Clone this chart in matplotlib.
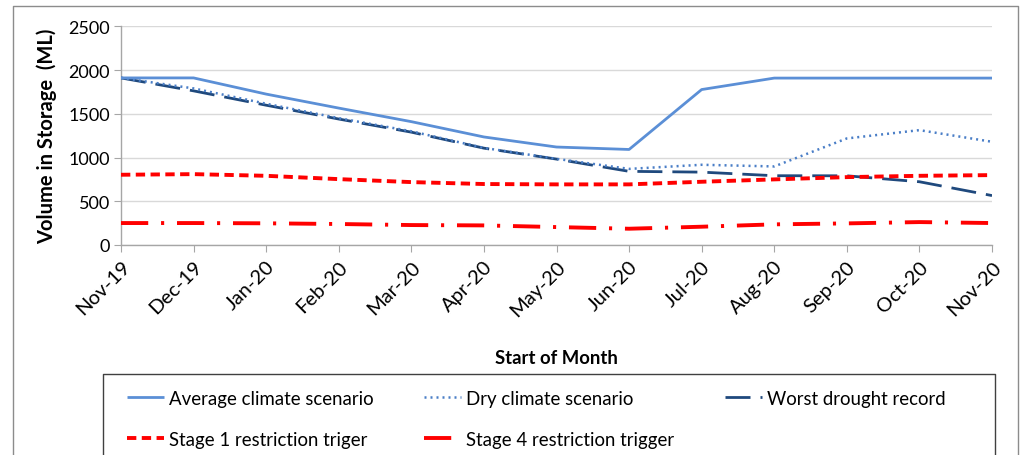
import matplotlib
matplotlib.use("Agg")
import matplotlib.pyplot as plt
from matplotlib.lines import Line2D

months = ["Nov-19", "Dec-19", "Jan-20", "Feb-20", "Mar-20", "Apr-20", "May-20",
          "Jun-20", "Jul-20", "Aug-20", "Sep-20", "Oct-20", "Nov-20"]
average = [1910, 1910, 1725, 1565, 1410, 1235, 1120, 1092, 1777, 1908, 1908, 1908, 1908]
dry = [1910, 1790, 1615, 1450, 1300, 1110, 985, 870, 917, 898, 1218, 1313, 1180]
worst = [1910, 1762, 1598, 1440, 1290, 1107, 982, 842, 833, 792, 791, 723, 565]
stage1 = [803, 810, 791, 753, 719, 697, 693, 693, 723, 750, 776, 791, 799]
stage4 = [251, 251, 248, 240, 228, 224, 205, 186, 209, 236, 247, 262, 251]

plt.rcParams['font.family'] = ['Lato', 'DejaVu Sans']

W, H = 1025, 456
fig = plt.figure(figsize=(W / 100, H / 100), dpi=100)
ax = fig.add_axes([121 / W, 1 - 246 / H, (992 - 121) / W, (246 - 27.3) / H])

x = list(range(len(months)))
ax.plot(x, average, color="#5B8FD6", lw=2.0, solid_capstyle="butt", label="Average climate scenario", zorder=5)
ax.plot(x, dry, color="#4A7EC7", lw=1.8, linestyle=(0, (0.8, 1.6)), label="Dry climate scenario", zorder=4)
ax.plot(x, worst, color="#1F497D", lw=2.0, linestyle=(0, (9, 3.6)), label="Worst drought record", zorder=3)
ax.plot(x, stage1, color="#FF0000", lw=2.8, linestyle=(0, (2.4, 1.4)), label="Stage 1 restriction triger", zorder=3)
ax.plot(x, stage4, color="#FF0000", lw=2.8, linestyle=(0, (7, 3.3, 0.8, 3.3)), label="Stage 4 restriction trigger", zorder=3)

ax.set_xlim(0, 12)
ax.set_ylim(0, 2500)
ax.set_yticks([0, 500, 1000, 1500, 2000, 2500])
ax.set_xticks(x)
ax.set_xticklabels(months, rotation=45, ha="right", rotation_mode="anchor")
ax.tick_params(axis="both", colors="#000000", length=5, width=0.8)
ax.tick_params(axis="x", color="#A6A6A6", pad=4, labelsize=14.5)
ax.tick_params(axis="y", color="#A6A6A6", pad=3, labelsize=13)
ax.grid(axis="y", color="#D9D9D9", lw=1.0)
ax.set_axisbelow(True)
for s in ["top", "right"]:
    ax.spines[s].set_visible(False)
for s in ["left", "bottom"]:
    ax.spines[s].set_color("#A6A6A6")
    ax.spines[s].set_linewidth(1.0)

ax.set_ylabel("Volume in Storage  (ML)", fontsize=14.5, fontweight="bold", labelpad=8)
ax.set_xlabel("Start of Month", fontsize=13.3, fontweight="bold")
ax.xaxis.set_label_coords(0.5, -(359 - 246) / (246 - 27.3))
ax.xaxis.label.set_va("center")

handles, labels = ax.get_legend_handles_labels()
order = [0, 3, 1, 4, 2]
leg = fig.legend([handles[i] for i in order], [labels[i] for i in order],
                 ncol=3, loc="upper left", bbox_to_anchor=(127 / W, 1 - 391 / H),
                 fontsize=13.4, frameon=False, handlelength=2.0,
                 handletextpad=0.27, columnspacing=2.7, labelspacing=1.28,
                 borderpad=0, borderaxespad=0)

# legend frame (cut off at the bottom)
fig.add_artist(Line2D([103.3 / W, 103.3 / W, 995 / W, 995 / W],
                      [0, 1 - 375 / H, 1 - 375 / H, 0],
                      transform=fig.transFigure, color="#404040", lw=1.0))

# outer chart border
fig.add_artist(Line2D([12.7 / W, 12.7 / W, 1018 / W, 1018 / W],
                      [0, 1 - 7.3 / H, 1 - 7.3 / H, 0],
                      transform=fig.transFigure, color="#8C8C8C", lw=1.0))

fig.savefig("out.png", dpi=100)
